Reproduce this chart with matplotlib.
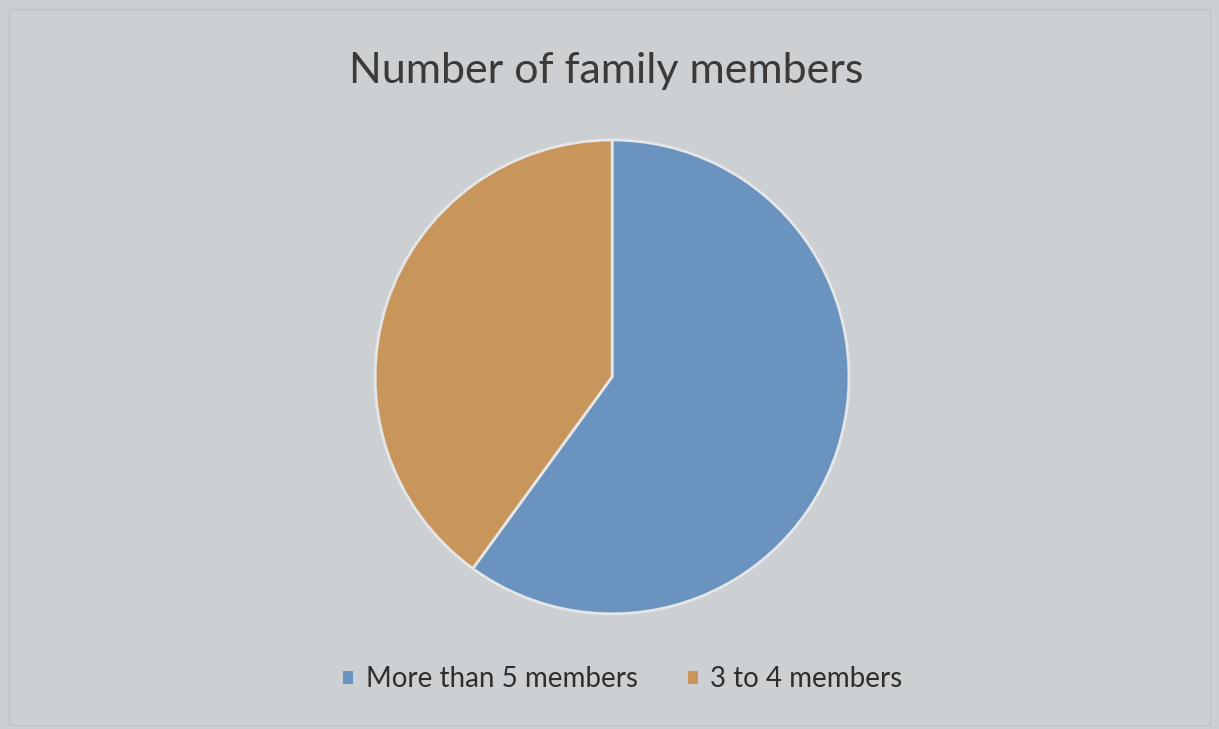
import matplotlib.pyplot as plt
from matplotlib.patches import Patch, Rectangle

plt.rcParams['font.family'] = ['Lato', 'DejaVu Sans']

# data
labels = ["More than 5 members", "3 to 4 members"]
shares = [60, 40]
colors = ["#6a93c0", "#c8955b"]
title = "Number of family members"

bg = "#cdd0d2"
fig = plt.figure(figsize=(12.19, 7.29), dpi=100, facecolor=bg)

# faint chart frame
fig.patches.append(Rectangle((0.007, 0.005), 0.986, 0.982, transform=fig.transFigure,
                             fill=False, edgecolor="#bfc2c4", linewidth=1.0))

ax = fig.add_axes([0.3076, 0.158, 0.389, 0.650])
ax.pie(shares, colors=colors, startangle=90, counterclock=False,
       wedgeprops=dict(edgecolor="#e4e6e7", linewidth=2))
ax.set_xlim(-1.0, 1.0)
ax.set_ylim(-1.0, 1.0)
ax.set_aspect('equal')
ax.set_facecolor(bg)

fig.text(0.497, 0.903, title, ha='center', va='center', fontsize=31, color="#3a3a3a")

handles = [Patch(facecolor=c, edgecolor='none') for c in colors]
fig.legend(handles, labels, loc='center', bbox_to_anchor=(0.511, 0.068), ncol=2,
           frameon=False, fontsize=20, labelcolor="#2e2e2e", handlelength=0.36,
           handleheight=0.36, handletextpad=0.45, columnspacing=1.8)

fig.savefig("out.png", dpi=100, facecolor=bg)
